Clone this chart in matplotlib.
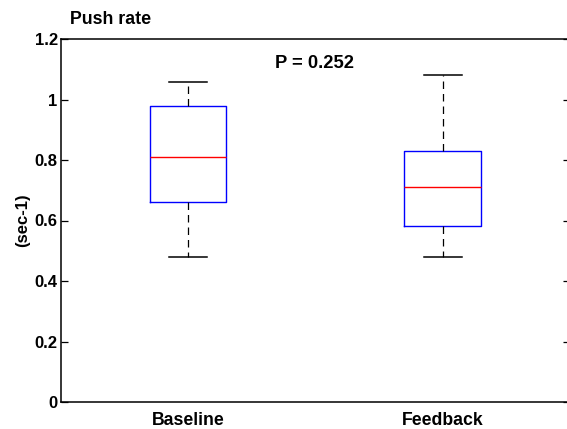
import matplotlib
matplotlib.use("Agg")
import matplotlib.pyplot as plt

categories = ["Baseline", "Feedback"]
whisker_low = [0.48, 0.48]
q1 = [0.66, 0.582]
median = [0.809, 0.712]
q3 = [0.979, 0.83]
whisker_high = [1.059, 1.08]
yticks = [0, 0.2, 0.4, 0.6, 0.8, 1.0, 1.2]
ytick_labels = ["0", "0.2", "0.4", "0.6", "0.8", "1", "1.2"]
title = "Push rate"
ylabel = "(sec-1)"
annotation = "P = 0.252"

plt.rcParams['font.family'] = ['Liberation Sans', 'DejaVu Sans']
plt.rcParams['font.weight'] = 'bold'

fig = plt.figure(figsize=(5.67, 4.29), dpi=100)
ax = fig.add_axes([60.5/567, 1 - 402/429, (570 - 60.5)/567, (402 - 39)/429])

stats = []
for i, c in enumerate(categories):
    stats.append(dict(label=c, whislo=whisker_low[i], q1=q1[i], med=median[i],
                      q3=q3[i], whishi=whisker_high[i], fliers=[]))

ax.bxp(stats, positions=[1, 2], widths=0.3, showfliers=False,
       boxprops=dict(color='#0000ff', linewidth=1.0),
       medianprops=dict(color='#ff0000', linewidth=1.0),
       whiskerprops=dict(color='black', linewidth=0.9, linestyle=(0, (6, 4))),
       capprops=dict(color='black', linewidth=1.1),
       capwidths=0.15)

ax.set_xlim(0.5, 2.5)
ax.set_ylim(0, 1.2)
ax.set_yticks(yticks)
ax.set_yticklabels(ytick_labels, fontsize=12, fontweight='bold')
ax.set_xticks([1, 2])
ax.set_xticklabels(categories, fontsize=12.7, fontweight='bold')
ax.tick_params(axis='y', direction='in', length=5, width=0.9, left=True, right=True, pad=2)
ax.tick_params(axis='x', length=0, pad=7)
for s in ax.spines.values():
    s.set_linewidth(1.1)

ax.set_ylabel(ylabel, fontsize=12, fontweight='bold', labelpad=3)
ax.text(1.341, 1.12, annotation, fontsize=13.2, fontweight='bold', ha='left', va='center')
fig.text(70/567, 1 - 20/429, title, fontsize=12.8, fontweight='bold', ha='left', va='center')

fig.savefig("out.png", dpi=100)
